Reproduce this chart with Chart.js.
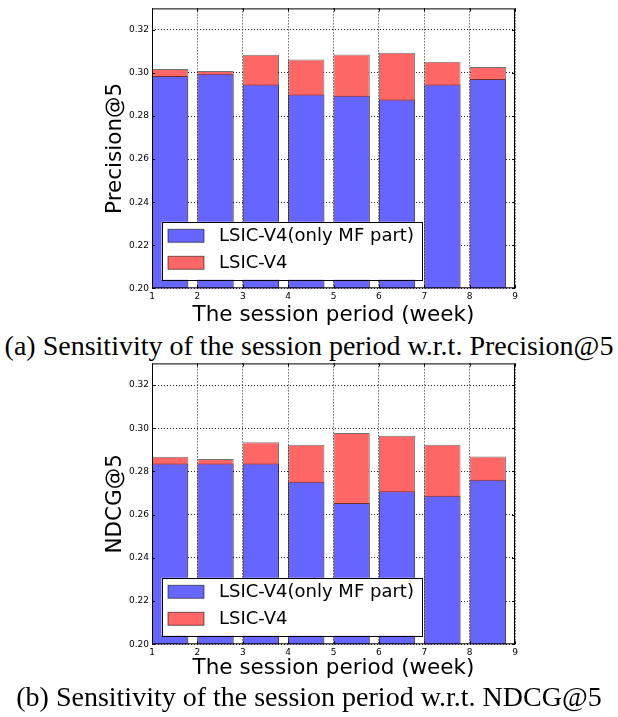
<!DOCTYPE html>
<html>
<head>
<meta charset="utf-8">
<script src="https://cdn.jsdelivr.net/npm/chart.js@4.4.0/dist/chart.umd.min.js"></script>
<style>
  body { margin: 0; background: #fff; width: 618px; height: 717px; position: relative; overflow: hidden; }
  .box { position: absolute; left: 0; width: 618px; height: 330px; }
  .cap { position: absolute; left: 0; width: 618px; text-align: center; white-space: nowrap;
         font-family: "Liberation Serif", "Times New Roman", serif; font-size: 28px; color: #000; line-height: 32px; }
</style>
</head>
<body>
<div class="box" style="top:0px"><canvas id="c1"></canvas></div>
<div class="cap" style="top:330px">(a) Sensitivity of the session period w.r.t. Precision@5</div>
<div class="box" style="top:355px"><canvas id="c2"></canvas></div>
<div class="cap" style="top:681px">(b) Sensitivity of the session period w.r.t. NDCG@5</div>

<script>
// data
const weeks = [1, 2, 3, 4, 5, 6, 7, 8];
const xTicks = [1, 2, 3, 4, 5, 6, 7, 8, 9];
const yTicks = [0.20, 0.22, 0.24, 0.26, 0.28, 0.30, 0.32];
const seriesNames = ["LSIC-V4(only MF part)", "LSIC-V4"];

const precMF   = [0.2986, 0.2997, 0.2946, 0.2900, 0.2894, 0.2877, 0.2946, 0.2972];
const precFull = [0.3019, 0.3009, 0.3085, 0.3063, 0.3086, 0.3094, 0.3052, 0.3028];
const ndcgMF   = [0.2837, 0.2837, 0.2837, 0.2752, 0.2654, 0.2708, 0.2688, 0.2762];
const ndcgFull = [0.2868, 0.2857, 0.2935, 0.2923, 0.2978, 0.2965, 0.2923, 0.2869];

const blue = "#6666ff";
const red = "#ff6666";
const edge = "rgba(0,0,0,0.55)";

// frame, inward ticks and the legend box in the lower left
const framePlugin = {
  id: "frame",
  afterDatasetsDraw(chart) {
    const ctx = chart.ctx;
    const a = chart.chartArea;
    ctx.save();
    ctx.strokeStyle = "#000";
    ctx.lineWidth = 1;
    ctx.setLineDash([]);
    ctx.strokeRect(a.left + 0.5, a.top + 0.5, a.right - a.left - 1, a.bottom - a.top - 1);

    ctx.beginPath();
    const xs = chart.scales.x, ys = chart.scales.y;
    xTicks.forEach(v => {
      const px = Math.round(xs.getPixelForValue(v)) + 0.5;
      ctx.moveTo(px, a.bottom); ctx.lineTo(px, a.bottom - 3);
      ctx.moveTo(px, a.top); ctx.lineTo(px, a.top + 3);
    });
    yTicks.forEach(v => {
      const py = Math.round(ys.getPixelForValue(v)) + 0.5;
      ctx.moveTo(a.left, py); ctx.lineTo(a.left + 3, py);
      ctx.moveTo(a.right, py); ctx.lineTo(a.right - 3, py);
    });
    ctx.stroke();

    // legend
    ctx.font = '18px "DejaVu Sans"';
    const tw = Math.max(...seriesNames.map(n => ctx.measureText(n).width));
    const bx = a.left + 9.5, bh = 58;
    const by = a.bottom - 8.5 - bh;
    const bw = 57.5 + tw + 7.5;
    ctx.fillStyle = "#fff";
    ctx.fillRect(bx, by, bw, bh);
    ctx.strokeStyle = "#000";
    ctx.strokeRect(Math.round(bx) + 0.5, Math.round(by) + 0.5, Math.round(bw), Math.round(bh));
    const cols = [blue, red];
    seriesNames.forEach((n, i) => {
      const cy = by + 14 + i * 27;
      ctx.fillStyle = cols[i];
      ctx.fillRect(bx + 6.5, cy - 6.5, 36, 13);
      ctx.strokeStyle = edge;
      ctx.strokeRect(bx + 6.5, cy - 6.5, 36, 13);
      ctx.fillStyle = "#000";
      ctx.textBaseline = "middle";
      ctx.textAlign = "left";
      ctx.fillText(n, bx + 57.5, cy + 1);
    });
    ctx.restore();
  }
};

function makeChart(id, yTitle, mfVals, fullVals, geo) {
  // bars start at the week number, 0.8 wide (matplotlib align='edge')
  const mfData = weeks.map((w, i) => ({ x: w + 0.4, y: mfVals[i] }));
  const fullData = weeks.map((w, i) => ({ x: w + 0.4, y: fullVals[i] }));

  new Chart(document.getElementById(id), {
    type: "bar",
    data: {
      datasets: [
        { label: seriesNames[0], data: mfData, backgroundColor: blue, borderColor: edge,
          borderWidth: 1, grouped: false, categoryPercentage: 0.8, barPercentage: 1 },
        { label: seriesNames[1], data: fullData, backgroundColor: red, borderColor: edge,
          borderWidth: 1, grouped: false, categoryPercentage: 0.8, barPercentage: 1 }
      ]
    },
    options: {
      responsive: true,
      maintainAspectRatio: false,
      animation: false,
      layout: { padding: { left: 0, right: 103, top: geo.top, bottom: 0 } },
      plugins: { legend: { display: false }, tooltip: { enabled: false } },
      scales: {
        x: {
          type: "linear", min: 1, max: 9, offset: false,
          afterBuildTicks: s => { s.ticks = xTicks.map(v => ({ value: v })); },
          afterFit: s => { s.height = geo.xh; },
          grid: { offset: false, color: "#222", lineWidth: 1, drawTicks: false, borderDash: [1, 2] },
          border: { display: false, dash: [1, 2] },
          ticks: { padding: 3, autoSkip: false, maxRotation: 0, color: "#000",
                   font: { family: "DejaVu Sans", size: 9 } },
          title: { display: true, text: "The session period (week)", color: "#000",
                   font: { family: "DejaVu Sans", size: 21.5 }, padding: { top: 0, bottom: geo.tb } }
        },
        y: {
          type: "linear", min: 0.20, max: 0.33,
          afterBuildTicks: s => { s.ticks = yTicks.map(v => ({ value: v })); },
          afterFit: s => { s.width = 152; },
          grid: { color: "#222", lineWidth: 1, drawTicks: false, borderDash: [1, 2] },
          border: { display: false, dash: [1, 2] },
          ticks: { padding: 3, color: "#000", font: { family: "DejaVu Sans", size: 9 },
                   callback: v => v.toFixed(2) },
          title: { display: true, text: yTitle, color: "#000",
                   font: { family: "DejaVu Sans", size: 21.5 }, padding: { top: 103, bottom: 0 } }
        }
      }
    },
    plugins: [framePlugin]
  });
}

makeChart("c1", "Precision@5", precMF, precFull, { top: 7.7, xh: 41.7, tb: 1.5 });
makeChart("c2", "NDCG@5", ndcgMF, ndcgFull, { top: 7.7, xh: 40.7, tb: 3.5 });
</script>
</body>
</html>
